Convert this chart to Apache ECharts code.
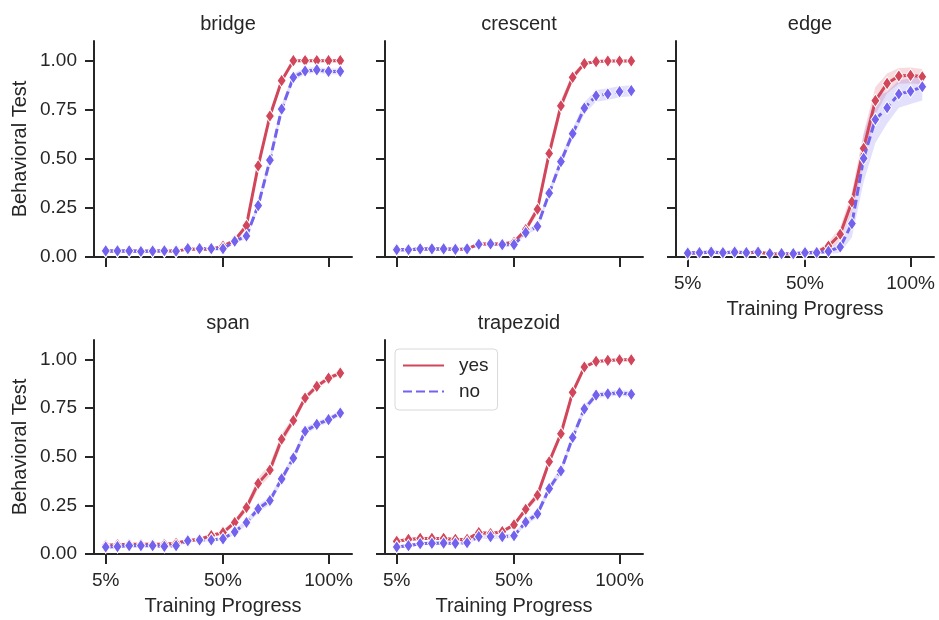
<!DOCTYPE html>
<html>
<head>
<meta charset="utf-8">
<script src="https://cdn.jsdelivr.net/npm/echarts@6/dist/echarts.min.js"></script>
<style>html,body{margin:0;padding:0;background:#fff;}#chart{width:939px;height:620px;}</style>
</head>
<body>
<div id="chart"></div>
<script>
// ---- data ----
const panels = ['bridge', 'crescent', 'edge', 'span', 'trapezoid'];
const hueNames = ['yes', 'no'];
const xTickIndex = [0, 10, 19];
const xTickLabels = ['5%', '50%', '100%'];
const yTicks = [0, 0.25, 0.5, 0.75, 1.0];

const bridgeYes = [0.03,0.03,0.03,0.03,0.03,0.03,0.03,0.04,0.04,0.04,0.055,0.085,0.16,0.464,0.718,0.898,1.0,1.0,1.0,1.0,1.0];
const bridgeNo  = [0.031,0.031,0.031,0.028,0.03,0.032,0.03,0.043,0.043,0.043,0.042,0.08,0.107,0.262,0.493,0.753,0.915,0.947,0.953,0.945,0.945];
const bridgeYesCI = [0.005,0.005,0.005,0.005,0.005,0.005,0.005,0.005,0.005,0.005,0.008,0.01,0.015,0.02,0.02,0.01,0.003,0.003,0.003,0.003,0.003];
const bridgeNoCI  = [0.005,0.005,0.005,0.005,0.005,0.005,0.005,0.006,0.006,0.006,0.008,0.01,0.015,0.02,0.025,0.025,0.02,0.015,0.015,0.015,0.015];

const crescentYes = [0.037,0.037,0.041,0.041,0.041,0.04,0.041,0.066,0.066,0.066,0.075,0.14,0.243,0.527,0.770,0.915,0.985,0.995,0.998,0.998,0.998];
const crescentNo  = [0.037,0.037,0.041,0.041,0.041,0.039,0.041,0.065,0.067,0.063,0.063,0.124,0.156,0.325,0.486,0.628,0.758,0.821,0.830,0.842,0.847];
const crescentYesCI = [0.006,0.006,0.006,0.006,0.006,0.006,0.006,0.008,0.008,0.008,0.01,0.015,0.025,0.035,0.03,0.02,0.01,0.005,0.004,0.004,0.004];
const crescentNoCI  = [0.006,0.006,0.006,0.006,0.006,0.006,0.006,0.008,0.008,0.008,0.01,0.012,0.015,0.02,0.025,0.025,0.03,0.03,0.03,0.028,0.028];

const edgeYes = [0.02,0.02,0.025,0.02,0.025,0.02,0.025,0.015,0.015,0.015,0.02,0.025,0.055,0.116,0.281,0.553,0.796,0.884,0.922,0.925,0.918];
const edgeNo  = [0.02,0.022,0.025,0.022,0.025,0.022,0.025,0.017,0.017,0.017,0.022,0.022,0.029,0.051,0.17,0.502,0.70,0.76,0.83,0.844,0.867];
const edgeYesCI = [0.008,0.008,0.008,0.008,0.008,0.008,0.008,0.006,0.006,0.006,0.008,0.01,0.02,0.035,0.05,0.08,0.07,0.05,0.04,0.04,0.04];
const edgeNoCI  = [0.008,0.008,0.008,0.008,0.008,0.008,0.008,0.006,0.006,0.006,0.008,0.008,0.012,0.03,0.07,0.12,0.12,0.08,0.07,0.065,0.07];

const spanYes = [0.045,0.048,0.05,0.05,0.05,0.05,0.055,0.07,0.075,0.095,0.11,0.162,0.239,0.363,0.432,0.590,0.686,0.802,0.862,0.904,0.930];
const spanNo  = [0.036,0.038,0.043,0.043,0.043,0.039,0.043,0.068,0.072,0.072,0.078,0.114,0.162,0.232,0.275,0.386,0.493,0.631,0.666,0.691,0.725];
const spanYesCI = [0.008,0.008,0.008,0.008,0.008,0.008,0.008,0.01,0.01,0.01,0.012,0.015,0.02,0.03,0.03,0.03,0.02,0.015,0.015,0.012,0.012];
const spanNoCI  = [0.006,0.006,0.006,0.006,0.006,0.006,0.006,0.008,0.008,0.008,0.01,0.012,0.015,0.02,0.02,0.02,0.02,0.02,0.015,0.015,0.015];

const trapezoidYes = [0.065,0.075,0.08,0.08,0.08,0.075,0.075,0.11,0.105,0.115,0.15,0.23,0.302,0.474,0.618,0.831,0.961,0.99,0.995,0.998,0.998];
const trapezoidNo  = [0.036,0.043,0.053,0.055,0.056,0.055,0.058,0.089,0.089,0.089,0.094,0.164,0.206,0.336,0.427,0.599,0.746,0.817,0.823,0.829,0.821];
const trapezoidYesCI = [0.008,0.008,0.008,0.008,0.008,0.008,0.008,0.01,0.01,0.01,0.012,0.015,0.02,0.02,0.02,0.015,0.01,0.005,0.004,0.003,0.003];
const trapezoidNoCI  = [0.008,0.008,0.008,0.008,0.008,0.008,0.008,0.01,0.01,0.01,0.012,0.015,0.02,0.02,0.02,0.02,0.02,0.015,0.015,0.015,0.015];

const panelData = {
  bridge: [[bridgeYes, bridgeYesCI], [bridgeNo, bridgeNoCI]],
  crescent: [[crescentYes, crescentYesCI], [crescentNo, crescentNoCI]],
  edge: [[edgeYes, edgeYesCI], [edgeNo, edgeNoCI]],
  span: [[spanYes, spanYesCI], [spanNo, spanNoCI]],
  trapezoid: [[trapezoidYes, trapezoidYesCI], [trapezoidNo, trapezoidNoCI]]
};

// ---- styles / layout ----
const FONT = '"Liberation Sans", Arial, sans-serif';
const INK = '#262626';
const colors = ['#d1465a', '#7262ee'];
const bandColors = ['rgba(209,70,90,0.2)', 'rgba(114,98,238,0.2)'];
const gridPos = [
  {left: 94, top: 41, width: 258, height: 216},
  {left: 385, top: 41, width: 258, height: 216},
  {left: 676, top: 41, width: 258, height: 216},
  {left: 94, top: 340, width: 258, height: 214},
  {left: 385, top: 340, width: 258, height: 214}
];
const showXLabels = [false, false, true, true, true];
const showYLabels = [true, false, false, true, false];

const grids = [], xAxes = [], yAxes = [], titles = [], series = [];
panels.forEach((p, i) => {
  const g = gridPos[i];
  grids.push({left: g.left, top: g.top, width: g.width, height: g.height, containLabel: false});
  titles.push({
    text: p, left: g.left + g.width / 2, top: g.top - 32, textAlign: 'center',
    textStyle: {fontFamily: FONT, fontSize: 20, fontWeight: 'normal', color: INK}
  });
  xAxes.push({
    type: 'value', gridIndex: i, min: -1, max: 21,
    axisLine: {show: true, onZero: false, lineStyle: {color: INK, width: 2}},
    axisTick: {show: true, length: 10, customValues: xTickIndex, lineStyle: {color: INK, width: 2}},
    axisLabel: {
      show: showXLabels[i], customValues: xTickIndex, margin: 17,
      formatter: v => xTickLabels[xTickIndex.indexOf(v)] || '',
      fontFamily: FONT, fontSize: 19, color: INK
    },
    splitLine: {show: false},
    name: showXLabels[i] ? 'Training Progress' : '',
    nameLocation: 'middle', nameGap: 42,
    nameTextStyle: {fontFamily: FONT, fontSize: 20, color: INK}
  });
  yAxes.push({
    type: 'value', gridIndex: i, min: 0, max: 1.1,
    axisLine: {show: true, onZero: false, lineStyle: {color: INK, width: 2}},
    axisTick: {show: true, length: 9, customValues: yTicks, lineStyle: {color: INK, width: 2}},
    axisLabel: {
      show: showYLabels[i], customValues: yTicks, margin: 17,
      formatter: v => v.toFixed(2),
      fontFamily: FONT, fontSize: 19, color: INK
    },
    splitLine: {show: false},
    name: showYLabels[i] ? 'Behavioral Test' : '',
    nameLocation: 'middle', nameGap: 64, nameRotate: 90,
    nameTextStyle: {fontFamily: FONT, fontSize: 20, color: INK}
  });

  panelData[p].forEach((pair, h) => {
    const vals = pair[0], ci = pair[1];
    const bandData = vals.map((v, k) => [k, v - ci[k], v + ci[k]]);
    series.push({
      type: 'custom', name: p + '-' + hueNames[h] + '-band',
      xAxisIndex: i, yAxisIndex: i, z: 1, silent: true,
      encode: {x: 0, y: [1, 2]},
      data: bandData,
      renderItem: (params, api) => {
        if (params.dataIndex !== 0) return null;
        const up = [], lo = [];
        bandData.forEach(d => {
          up.push(api.coord([d[0], d[2]]));
          lo.push(api.coord([d[0], d[1]]));
        });
        return {type: 'polygon', shape: {points: up.concat(lo.reverse())}, style: {fill: bandColors[h]}};
      }
    });
  });
  panelData[p].forEach((pair, h) => {
    series.push({
      type: 'line', name: p + '-' + hueNames[h],
      xAxisIndex: i, yAxisIndex: i, z: 2 + h,
      data: pair[0].map((v, k) => [k, v]),
      symbol: 'diamond', symbolSize: [9, 13], showAllSymbol: true,
      lineStyle: {color: colors[h], width: 3, type: h === 0 ? 'solid' : [9, 4]},
      itemStyle: {color: colors[h], borderColor: '#ffffff', borderWidth: 1},
      emphasis: {disabled: true}
    });
  });
});

// legend proxies
hueNames.forEach((n, h) => {
  series.push({
    type: 'line', name: n, xAxisIndex: 4, yAxisIndex: 4, data: [], symbol: 'none',
    lineStyle: {color: colors[h], width: 3, type: h === 0 ? 'solid' : [9, 4]},
    itemStyle: {color: colors[h]}
  });
});

const chart = echarts.init(document.getElementById('chart'), null, {renderer: 'canvas'});
chart.setOption({
  animation: false,
  backgroundColor: '#ffffff',
  title: titles,
  grid: grids,
  xAxis: xAxes,
  yAxis: yAxes,
  legend: {
    data: hueNames, orient: 'vertical', left: 395, top: 349,
    padding: [7, 9, 9, 7], itemWidth: 41, itemHeight: 14, itemGap: 7,
    borderColor: '#d9d9d9', borderWidth: 1, borderRadius: 4, backgroundColor: '#ffffff',
    selectedMode: false,
    itemStyle: {color: 'rgba(0,0,0,0)', borderWidth: 0, opacity: 0},
    textStyle: {fontFamily: FONT, fontSize: 19, color: INK, padding: [0, 0, 0, 10]}
  },
  series: series
});
</script>
</body>
</html>
